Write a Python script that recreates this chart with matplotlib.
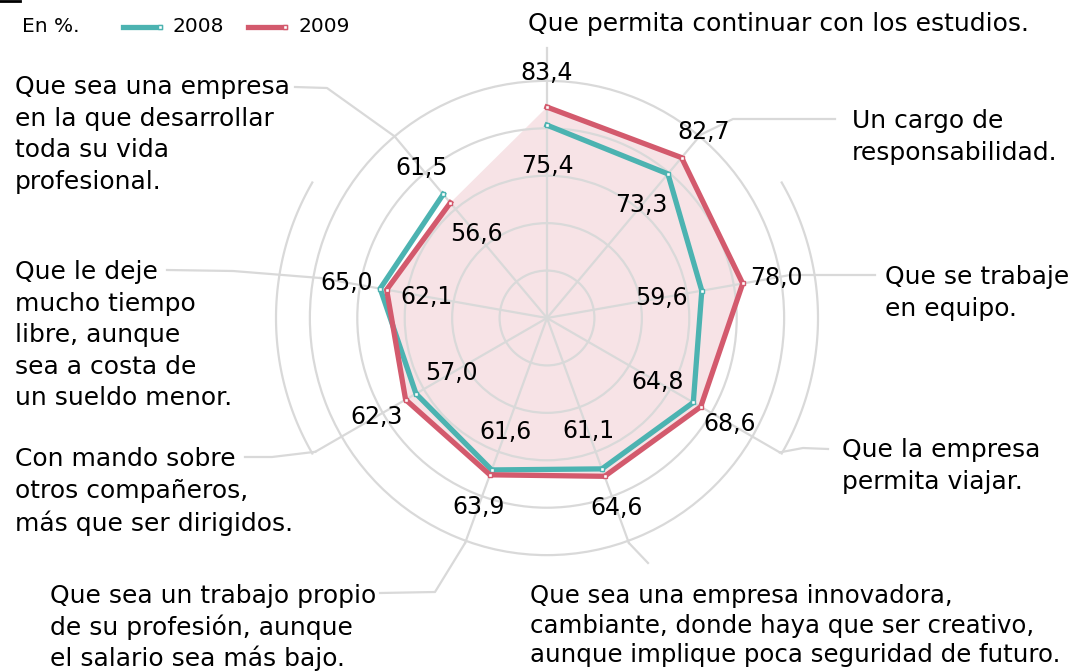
import numpy as np
import matplotlib.pyplot as plt
import matplotlib.transforms as mtransforms
from matplotlib.lines import Line2D

W, H = 1069, 672

# datos (en %)
categorias = [
    "Que permita continuar con los estudios.",
    "Un cargo de\nresponsabilidad.",
    "Que se trabaje\nen equipo.",
    "Que la empresa\npermita viajar.",
    "Que sea una empresa innovadora,\ncambiante, donde haya que ser creativo,\naunque implique poca seguridad de futuro.",
    "Que sea un trabajo propio\nde su profesión, aunque\nel salario sea más bajo.",
    "Con mando sobre\notros compañeros,\nmás que ser dirigidos.",
    "Que le deje\nmucho tiempo\nlibre, aunque\nsea a costa de\nun sueldo menor.",
    "Que sea una empresa\nen la que desarrollar\ntoda su vida\nprofesional.",
]
v2008 = [75.4, 73.3, 59.6, 64.8, 61.1, 61.6, 57.0, 65.0, 61.5]
v2009 = [83.4, 82.7, 78.0, 68.6, 64.6, 63.9, 62.3, 62.1, 56.6]

teal = "#4cb3b1"
rojo = "#d35a6d"
rosa = "#f7e3e6"
gris = "#d9d9d9"

fig = plt.figure(figsize=(W / 100, H / 100), dpi=100)
px = mtransforms.Affine2D().scale(1 / W, -1 / H).translate(0, 1) + fig.transFigure

cx, cy, R = 547, 318, 271
ax = fig.add_axes([(cx - R) / W, (H - cy - R) / H, 2 * R / W, 2 * R / H], projection="polar")
ax.set_theta_zero_location("N")
ax.set_theta_direction(-1)
ax.set_ylim(-10, 110)
ax.set_facecolor("none")
ax.spines["polar"].set_visible(False)
ax.set_xticks([])
ax.set_yticks([11, 32, 53, 74, 95])
ax.set_yticklabels([])
ax.yaxis.grid(True, color=gris, lw=1.6)
ax.xaxis.grid(False)

theta = np.deg2rad(np.arange(len(v2008)) * 40)

# arcos exteriores a los lados
for a0, a1 in [(60, 120), (240, 300)]:
    t = np.deg2rad(np.linspace(a0, a1, 60))
    ax.plot(t, np.full_like(t, 110), color=gris, lw=1.6, clip_on=False, zorder=0)

# radios + lineas guia hacia los textos
fin_radio = [109.5, 96, 89, 109, 96, 96, 108.5, 92, 95]
guias = [
    [],
    [(733, 119), (835, 119)],
    [(790, 275), (875, 275)],
    [(803, 448), (828, 449)],
    [(648, 563)],
    [(435, 592), (380, 593)],
    [(272, 457), (245, 457)],
    [(233, 271), (167, 270)],
    [(327, 88), (295, 87)],
]
ax.fill(theta, v2009, color=rosa, lw=0, zorder=0.5)
for th, r, g in zip(theta, fin_radio, guias):
    ax.plot([th, th], [-10, r], color=gris, lw=1.6, zorder=1, clip_on=False)
    if g:
        x0, y0 = ax.transData.transform((th, r))
        xs = [x0] + [p[0] for p in g]
        ys = [H - y0] + [p[1] for p in g]
        fig.add_artist(Line2D(xs, ys, transform=px, color=gris, lw=1.6, zorder=0))

ax.plot(theta, v2008, color=teal, lw=3.8, marker="s", ms=3.5, mfc="white", mec=teal,
        mew=1, zorder=3, clip_on=False)
ax.plot(theta, v2009, color=rojo, lw=3.8, marker="s", ms=3.5, mfc="white", mec=rojo,
        mew=1, zorder=4, clip_on=False)

# etiquetas de valores: el mayor por fuera, el menor por dentro
for th, a, b in zip(theta, v2008, v2009):
    hi, lo = max(a, b), min(a, b)
    ax.text(th, hi + 15, f"{hi:.1f}".replace(".", ","), ha="center", va="center",
            fontsize=17, zorder=5)
    ax.text(th, lo - 18, f"{lo:.1f}".replace(".", ","), ha="center", va="center",
            fontsize=17, zorder=5)

# textos de las categorias (x izquierda, centro de la primera linea)
pos_txt = [(528, 22), (852, 119), (885, 275), (842, 448), (530, 594),
           (50, 594), (15, 457), (15, 270), (15, 85)]
tam_txt = [18, 18, 18, 18, 17.6, 18, 18, 18, 18]
esp_txt = [1.4, 1.4, 1.4, 1.4, 1.3, 1.3, 1.4, 1.4, 1.4]
for txt, (x, y), fs, ls in zip(categorias, pos_txt, tam_txt, esp_txt):
    fig.text(x, y - 10, txt, transform=px, fontsize=fs, ha="left", va="top",
             linespacing=ls)

# leyenda
fig.text(22, 27, "En %.", transform=px, fontsize=14.5, va="center")
for x0, col, lab in [(123, teal, "2008"), (248, rojo, "2009")]:
    fig.add_artist(Line2D([x0, x0 + 37], [27, 27], transform=px, color=col, lw=3.8,
                          marker="s", ms=3.5, mfc="white", mec=col, mew=1, markevery=[1]))
    fig.text(x0 + 50, 27, lab, transform=px, fontsize=14.5, va="center")

fig.add_artist(Line2D([0, 20], [1, 1], transform=px, color="black", lw=2))

fig.savefig("out.png", dpi=100)
